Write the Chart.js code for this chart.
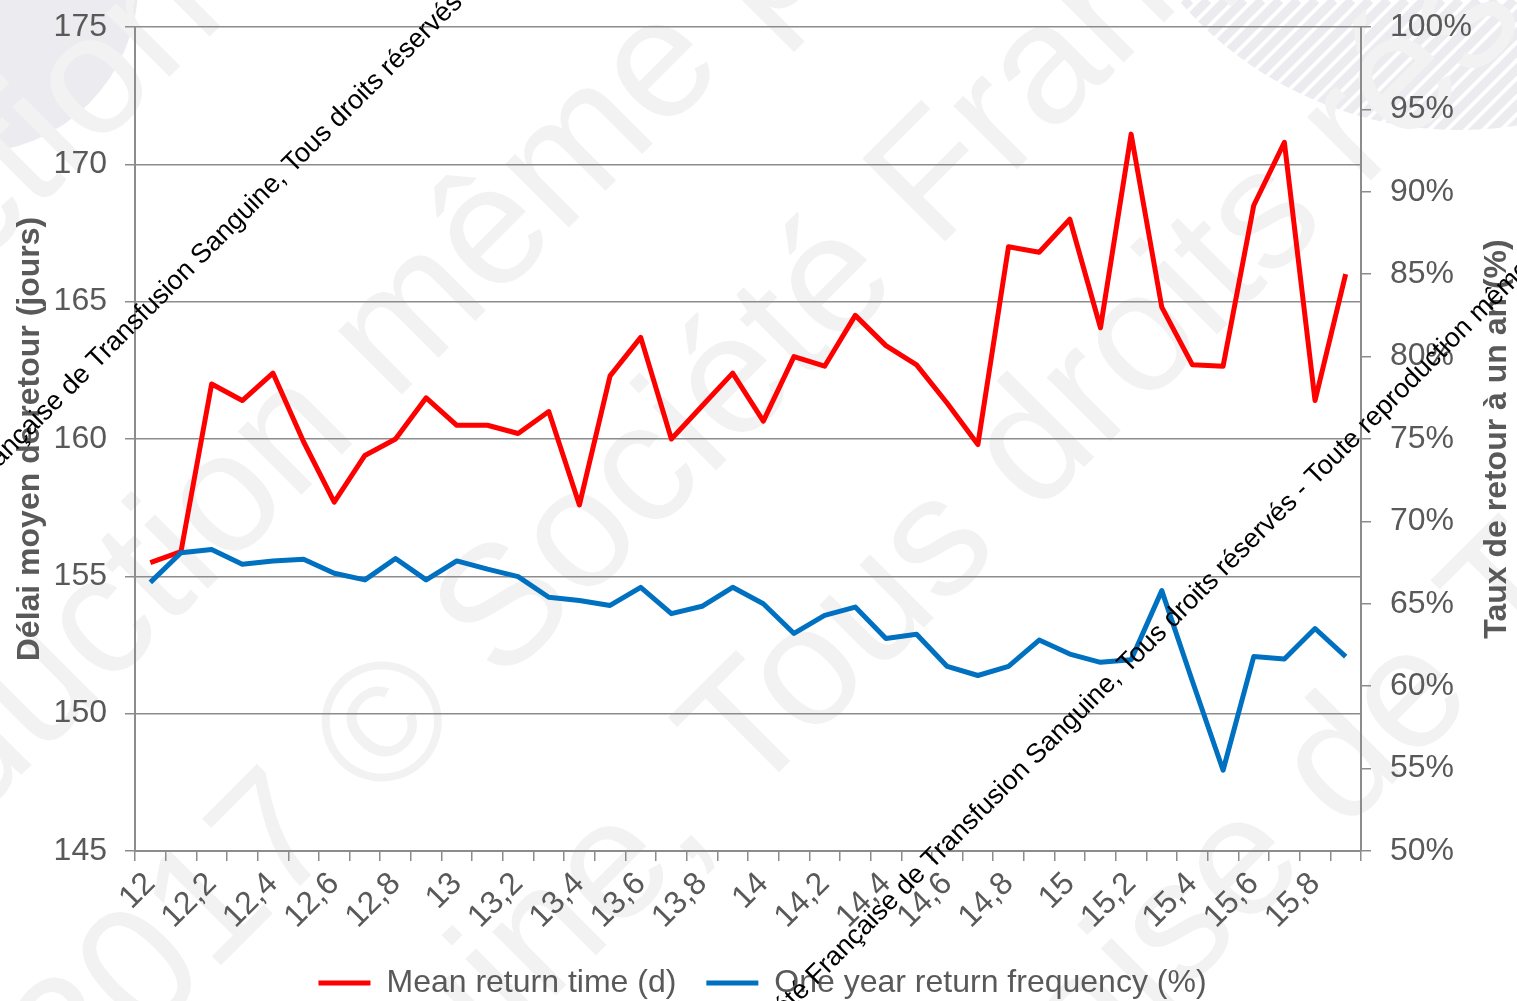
<!DOCTYPE html>
<html lang="fr">
<head>
<meta charset="UTF-8">
<title>Délai moyen et taux de retour</title>
<script src="https://cdn.jsdelivr.net/npm/chart.js"></script>
<style>
  html, body { margin: 0; padding: 0; background: #fff; }
</style>
</head>
<body>
<canvas id="graphique" width="1517" height="1001"></canvas>
<script>
// Données
const categories = [
  "12", "12,1", "12,2", "12,3", "12,4", "12,5", "12,6", "12,7", "12,8", "12,9",
  "13", "13,1", "13,2", "13,3", "13,4", "13,5", "13,6", "13,7", "13,8", "13,9",
  "14", "14,1", "14,2", "14,3", "14,4", "14,5", "14,6", "14,7", "14,8", "14,9",
  "15", "15,1", "15,2", "15,3", "15,4", "15,5", "15,6", "15,7", "15,8", "15,9"
];
const delaiMoyen = [
  155.5, 155.9, 162.0, 161.4, 162.4, 159.9, 157.7, 159.4, 160.0, 161.5,
  160.5, 160.5, 160.2, 161.0, 157.6, 162.3, 163.7, 160.0, 161.2, 162.4,
  160.65, 163.0, 162.65, 164.5, 163.4, 162.7, 161.3, 159.8, 167.0, 166.8,
  168.0, 164.05, 171.1, 164.8, 162.7, 162.65, 168.5, 170.8, 161.4, 166.0
];
const tauxRetour = [
  66.3, 68.1, 68.3, 67.4, 67.6, 67.7, 66.85, 66.45, 67.75, 66.45,
  67.6, 67.1, 66.65, 65.4, 65.2, 64.9, 66.0, 64.4, 64.85, 66.0,
  65.0, 63.2, 64.3, 64.8, 62.9, 63.15, 61.2, 60.65, 61.2, 62.8,
  61.95, 61.45, 61.6, 65.8, 60.3, 54.9, 61.8, 61.65, 63.5, 61.8
];
const ticksDelai = [145, 150, 155, 160, 165, 170, 175];
const ticksTaux = [50, 55, 60, 65, 70, 75, 80, 85, 90, 95, 100];

const police = "'Liberation Sans', Arial, sans-serif";
const gris = "#8c8c8c";
const mention = "Société Française de Transfusion Sanguine, Tous droits réservés - Toute reproduction même partielle interdite";
const titreDroite = "Taux de retour à un an (%)";

Chart.defaults.font.family = police;
Chart.defaults.font.size = 32;
Chart.defaults.color = "#595959";

// Filigrane en fond, mentions et titre de droite par-dessus
const filigrane = {
  id: "filigrane",
  beforeDraw(chart) {
    const ctx = chart.ctx;
    ctx.save();
    ctx.fillStyle = "#fff";
    ctx.fillRect(0, 0, chart.width, chart.height);

    ctx.fillStyle = "#ebebf0";
    ctx.beginPath();
    ctx.arc(-30, -15, 168, 0, Math.PI * 2);
    ctx.fill();

    ctx.save();
    ctx.beginPath();
    ctx.arc(1460, -240, 370, 0, Math.PI * 2);
    ctx.clip();
    ctx.strokeStyle = "#ebebf0";
    ctx.lineWidth = 9;
    for (let k = 1100; k < 1900; k += 18) {
      ctx.beginPath();
      ctx.moveTo(k, 0);
      ctx.lineTo(k - 300, 300);
      ctx.stroke();
    }
    ctx.restore();

    ctx.fillStyle = "#f2f2f2";
    ctx.font = "170px " + police;
    ctx.textBaseline = "middle";
    const lignes = [
      ["Reproduction même partielle", -388, 1118],
      ["2017 © Société Française de", 45, 1075],
      ["Sanguine, Tous droits réservés", 140, 1345],
      ["Française de Transfusion", 749, 1361],
      ["Reproduction", -520, 700]
    ];
    for (const [txt, x, y] of lignes) {
      ctx.save();
      ctx.translate(x, y);
      ctx.rotate(-Math.PI / 4);
      ctx.fillText(txt, 0, 0);
      ctx.restore();
    }
    ctx.restore();
  },
  afterDraw(chart) {
    const ctx = chart.ctx;
    ctx.save();
    const y1 = chart.scales.y1;
    ctx.font = "bold 32px " + police;
    ctx.fillStyle = "#595959";
    ctx.textAlign = "center";
    ctx.textBaseline = "middle";
    ctx.translate(y1.right - 20, (chart.chartArea.top + chart.chartArea.bottom) / 2);
    ctx.rotate(-Math.PI / 2);
    ctx.fillText(titreDroite, 0, 0);
    ctx.restore();

    ctx.save();
    ctx.font = "27px " + police;
    ctx.fillStyle = "#000";
    ctx.textBaseline = "alphabetic";
    const decal = ctx.measureText("Société Française de ").width;
    for (const [x, y] of [[97, 370], [932, 870]]) {
      ctx.save();
      ctx.translate(x, y);
      ctx.rotate(-Math.PI / 4);
      ctx.fillText(mention, -decal, 0);
      ctx.restore();
    }
    ctx.restore();
  }
};

new Chart(document.getElementById("graphique"), {
  type: "line",
  data: {
    labels: categories,
    datasets: [
      {
        label: "Mean return time (d)",
        data: delaiMoyen,
        yAxisID: "y",
        borderColor: "#ff0000",
        backgroundColor: "#ff0000",
        borderWidth: 5,
        borderJoinStyle: "round",
        pointRadius: 0,
        tension: 0,
        order: 2
      },
      {
        label: "One year return frequency (%)",
        data: tauxRetour,
        yAxisID: "y1",
        borderColor: "#0070c0",
        backgroundColor: "#0070c0",
        borderWidth: 5,
        borderJoinStyle: "round",
        pointRadius: 0,
        tension: 0,
        order: 1
      }
    ]
  },
  options: {
    responsive: false,
    animation: false,
    devicePixelRatio: 1,
    layout: { padding: { left: 8, right: 0, top: 0, bottom: -8 } },
    plugins: {
      tooltip: { enabled: false },
      legend: {
        position: "bottom",
        labels: {
          boxWidth: 52,
          boxHeight: 5,
          padding: 30,
          font: { size: 32 },
          color: "#595959",
          sort: (a, b) => a.datasetIndex - b.datasetIndex,
          generateLabels(chart) {
            return Chart.defaults.plugins.legend.labels.generateLabels(chart)
              .map(l => ({ ...l, fillStyle: l.strokeStyle, lineWidth: 0 }));
          }
        }
      }
    },
    scales: {
      x: {
        offset: true,
        afterFit: s => { s.height = 86; },
        grid: { drawOnChartArea: false, offset: true, color: gris, lineWidth: 1.5, tickLength: 10 },
        border: { color: gris, width: 2 },
        ticks: {
          autoSkip: false,
          minRotation: 45,
          maxRotation: 45,
          padding: 4,
          callback: (v, i) => (i % 2 === 0 ? categories[i] : "")
        }
      },
      y: {
        position: "left",
        min: ticksDelai[0],
        max: ticksDelai[ticksDelai.length - 1],
        afterBuildTicks: s => { s.ticks = ticksDelai.map(v => ({ value: v })); },
        afterFit: s => { s.width = 127; },
        grid: { color: gris, lineWidth: 1.5, tickLength: 10 },
        border: { color: gris, width: 2 },
        ticks: { padding: 18, font: { size: 32, lineHeight: 0.5 } },
        title: {
          display: true,
          text: "Délai moyen de retour (jours)",
          font: { size: 32, weight: "bold" },
          color: "#595959",
          padding: { top: 3, bottom: 8 }
        }
      },
      y1: {
        position: "right",
        min: ticksTaux[0],
        max: ticksTaux[ticksTaux.length - 1],
        afterBuildTicks: s => { s.ticks = ticksTaux.map(v => ({ value: v })); },
        afterFit: s => { s.width = 156; },
        grid: { drawOnChartArea: false, color: gris, lineWidth: 1.5, tickLength: 10 },
        border: { color: gris, width: 2 },
        ticks: { padding: 19, font: { size: 32, lineHeight: 0.5 }, callback: v => v + "%" },
        title: {
          display: true,
          text: titreDroite,
          font: { size: 32, weight: "bold" },
          color: "rgba(0,0,0,0)",
          padding: { top: 2, bottom: 10 }
        }
      }
    }
  },
  plugins: [filigrane]
});
</script>
</body>
</html>
